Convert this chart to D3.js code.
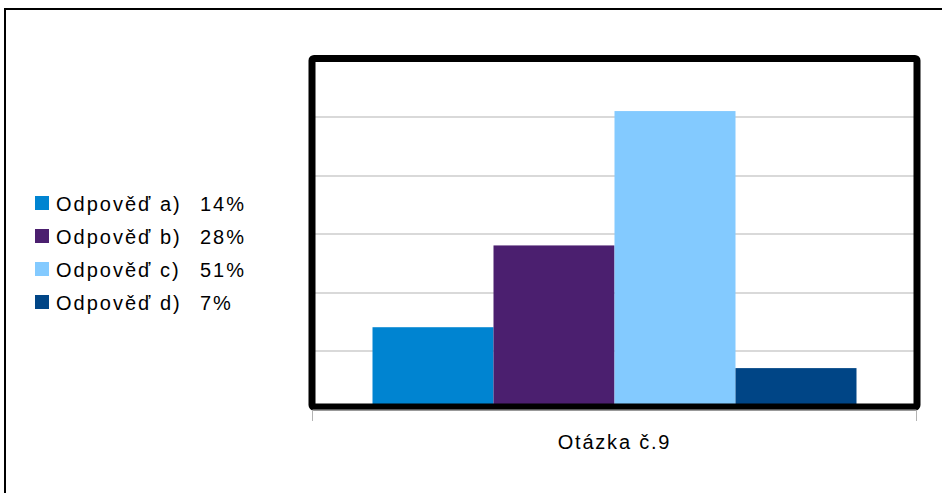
<!DOCTYPE html>
<html>
<head>
<meta charset="utf-8">
<script src="https://cdn.jsdelivr.net/npm/d3@7"></script>
<style>
  body { margin: 0; background: #fff; }
  text { font-family: "Liberation Sans", Arial, sans-serif; fill: #000; }
</style>
</head>
<body>
<svg id="chart"></svg>
<script>
var categories = ["Otázka č.9"];
var seriesNames = ["Odpověď a)", "Odpověď b)", "Odpověď c)", "Odpověď d)"];
var seriesValues = [14, 28, 51, 7];
var seriesColors = ["#0084d1", "#4b1f6f", "#83caff", "#004586"];
var yTicks = [0, 10, 20, 30, 40, 50, 60];

var W = 942, H = 493;
var margin = {top: 58.5, right: 25, bottom: 84, left: 312},
    width = W - margin.left - margin.right,
    height = H - margin.top - margin.bottom;

var svg = d3.select("#chart")
    .attr("width", W)
    .attr("height", H);

// outer frame
svg.append("rect")
    .attr("x", 5).attr("y", 9)
    .attr("width", 1000).attr("height", 1000)
    .style("fill", "none")
    .style("stroke", "#000")
    .style("stroke-width", 2);

var g = svg.append("g")
    .attr("transform", "translate(" + margin.left + "," + margin.top + ")");

var x0 = d3.scaleBand()
    .domain(categories)
    .range([0, width])
    .paddingInner(0).paddingOuter(0);

var x1 = d3.scaleBand()
    .domain(seriesNames)
    .range([x0.bandwidth() * 0.1, x0.bandwidth() * 0.9]);

var y = d3.scaleLinear()
    .domain([0, 60])
    .range([height, 0]);

// gridlines
g.append("g")
  .selectAll("line")
    .data(yTicks.slice(1, -1))
  .enter().append("line")
    .attr("x1", 0).attr("x2", width)
    .attr("y1", function(d) { return Math.round(y(d)) + 0.5; })
    .attr("y2", function(d) { return Math.round(y(d)) + 0.5; })
    .style("stroke", "#b3b3b3")
    .style("stroke-width", 1);

// bars
g.append("g")
  .selectAll("rect")
    .data(seriesValues)
  .enter().append("rect")
    .attr("x", function(d, i) { return x0(categories[0]) + x1(seriesNames[i]); })
    .attr("y", function(d) { return y(d); })
    .attr("width", x1.bandwidth())
    .attr("height", function(d) { return height - y(d); })
    .style("fill", function(d, i) { return seriesColors[i]; });

// thick plot frame
g.append("rect")
    .attr("x", 0).attr("y", 0)
    .attr("width", width).attr("height", height - 2)
    .attr("rx", 2)
    .style("fill", "none")
    .style("stroke", "#000")
    .style("stroke-width", 7);

// x axis
var xAxis = g.append("g")
    .attr("transform", "translate(0," + (height + 1) + ")")
    .call(d3.axisBottom(x0).tickSize(0).tickFormat(""));
xAxis.select(".domain").style("stroke", "#b3b3b3").attr("d", "M0.5,0H" + (width - 0.5));
xAxis.selectAll(".edge")
    .data([0, width])
  .enter().append("line")
    .attr("x1", function(d) { return d === 0 ? 0.5 : d - 0.5; })
    .attr("x2", function(d) { return d === 0 ? 0.5 : d - 0.5; })
    .attr("y1", 0).attr("y2", 11)
    .style("stroke", "#b3b3b3");

g.append("text")
    .attr("x", x0(categories[0]) + x0.bandwidth() / 2)
    .attr("y", height + 40)
    .style("text-anchor", "middle")
    .style("font-size", "20px")
    .style("letter-spacing", "1.8px")
    .text(categories[0]);

// legend
var legend = svg.append("g")
    .attr("transform", "translate(35,196)");

var rows = legend.selectAll("g")
    .data(seriesNames)
  .enter().append("g")
    .attr("transform", function(d, i) { return "translate(0," + (i * 33) + ")"; });

rows.append("rect")
    .attr("width", 14).attr("height", 14)
    .style("fill", function(d, i) { return seriesColors[i]; });

var labels = rows.append("text")
    .attr("y", 14.5)
    .style("font-size", "20px")
    .style("letter-spacing", "2px");
labels.append("tspan")
    .attr("x", 21)
    .text(function(d) { return d; });
labels.append("tspan")
    .attr("x", 165)
    .text(function(d, i) { return seriesValues[i] + "%"; });
</script>
</body>
</html>
